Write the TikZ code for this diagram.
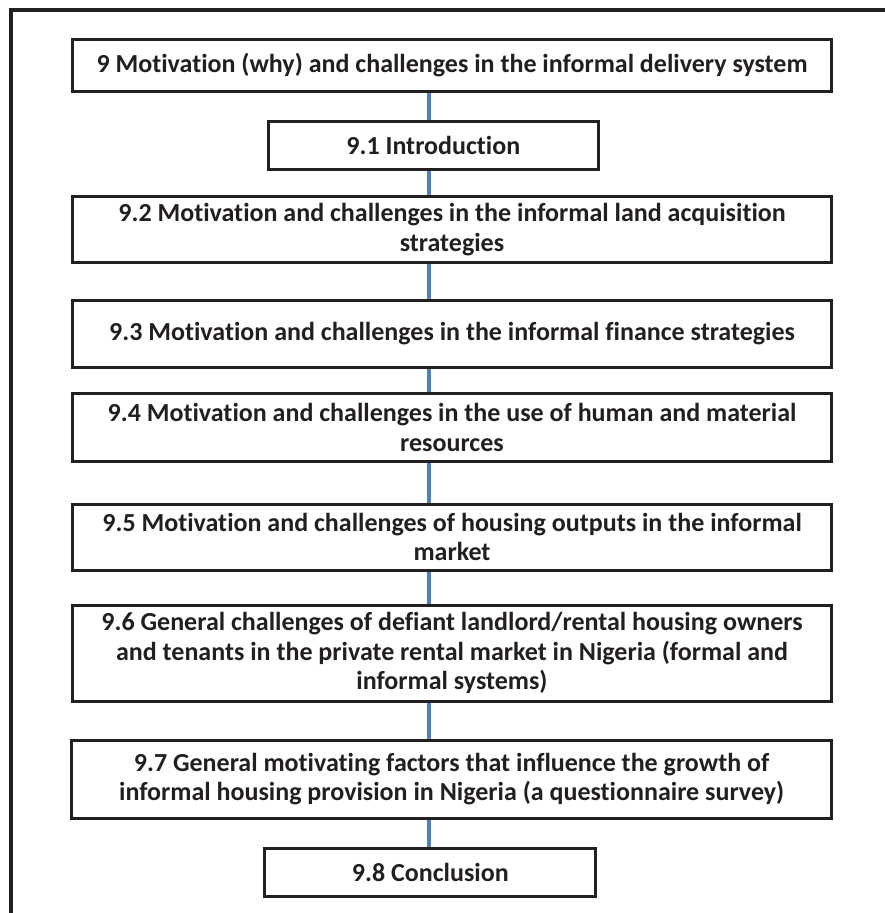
\documentclass[tikz,border=0pt]{standalone}
\usepackage{fontspec}
\setmainfont{Carlito}[Ligatures={NoCommon}]
\definecolor{linkblue}{RGB}{79,129,189}
\definecolor{boxline}{RGB}{35,31,32}
\begin{document}
\begin{tikzpicture}[x=1pt,y=-1pt,
  stage/.style={draw=boxline, line width=3pt, rectangle, inner sep=0pt, align=center,
    font=\fontsize{26}{29.5}\selectfont\bfseries, text=boxline},
  link/.style={draw=linkblue, line width=4pt}]
\useasboundingbox (0,0) rectangle (885,913);
\fill[white] (0,0) rectangle (885,913);
\draw[boxline, line width=4pt] (11.3,913) -- (11.3,10.3) -- (885,10.3);
\coordinate (axis) at (429,0);
\node[stage, minimum width=759pt, minimum height=52pt] (b0) at (452,65.4)
  {9 Motivation (why) and challenges in the informal delivery system};
\node[stage, minimum width=330pt, minimum height=48pt] (b1) at (433.3,145.2)
  {9.1 Introduction};
\node[stage, minimum width=759pt, minimum height=66pt] (b2) at (452,229.5)
  {9.2 Motivation and challenges in the informal land acquisition\\strategies};
\node[stage, minimum width=759pt, minimum height=67pt] (b3) at (452,334)
  {9.3 Motivation and challenges in the informal finance strategies};
\node[stage, minimum width=759pt, minimum height=68pt] (b4) at (452,427.5)
  {9.4 Motivation and challenges in the use of human and material\\resources};
\node[stage, minimum width=759pt, minimum height=66pt] (b5) at (452,537)
  {9.5 Motivation and challenges of housing outputs in the informal\\market};
\node[stage, minimum width=759pt, minimum height=96pt] (b6) at (452,653)
  {9.6 General challenges of defiant landlord/rental housing owners\\and tenants in the private rental market in Nigeria (formal and\\informal systems)};
\node[stage, minimum width=760pt, minimum height=78pt] (b7) at (451.6,779)
  {9.7 General motivating factors that influence the growth of\\informal housing provision in Nigeria (a questionnaire survey)};
\node[stage, minimum width=331pt, minimum height=48pt] (b8) at (430.3,872.4)
  {9.8 Conclusion};
\foreach \a/\b in {b0/b1,b1/b2,b2/b3,b3/b4,b4/b5,b5/b6,b6/b7,b7/b8}
  \draw[link] (\a.south -| axis) -- (\b.north -| axis);
\end{tikzpicture}
\end{document}
